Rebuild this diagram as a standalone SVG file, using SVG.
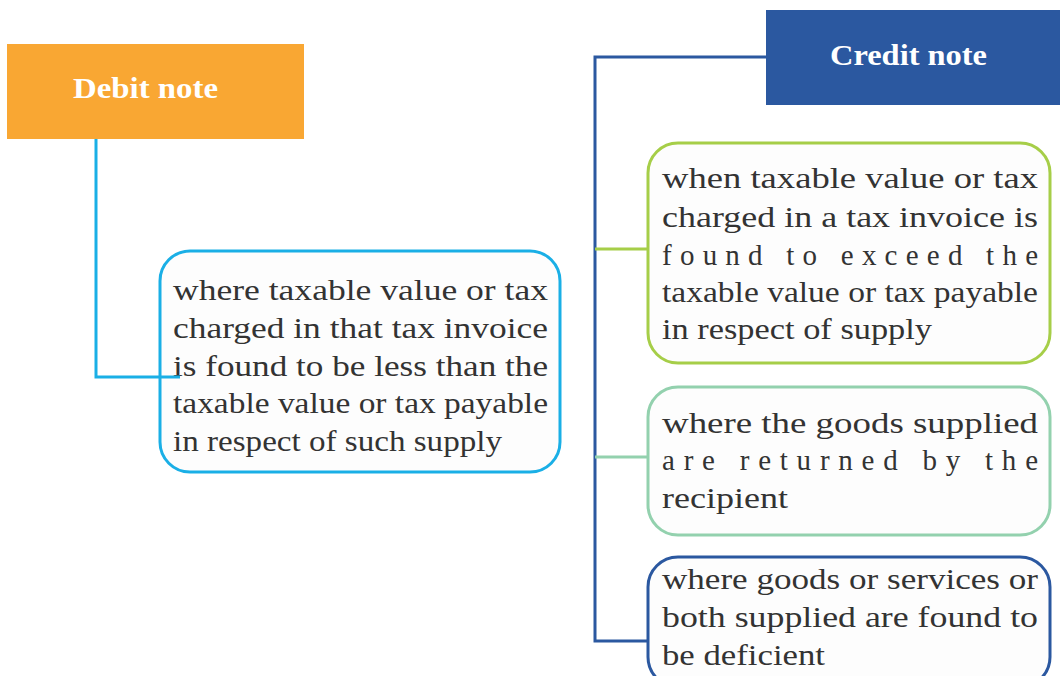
<svg xmlns="http://www.w3.org/2000/svg" width="1060" height="676" viewBox="0 0 1060 676">
<style>
.hdr{font-family:"Liberation Serif",serif;font-weight:bold;font-size:30px;fill:#ffffff}
.t{font-family:"Liberation Serif",serif;font-size:29px;fill:#333333}
.box{fill:#fdfdfd;stroke-width:3}
.ln{fill:none;stroke-width:3}
</style>
<rect width="1060" height="676" fill="#ffffff"/>
<g id="debit-note">
<rect x="7" y="44" width="297" height="95" fill="#f9a733"/>
<text class="hdr" x="73" y="98" textLength="145" lengthAdjust="spacingAndGlyphs">Debit note</text>
</g>
<g id="credit-note">
<rect x="766" y="10" width="294" height="95" fill="#2b58a0"/>
<text class="hdr" x="830" y="65" textLength="157" lengthAdjust="spacingAndGlyphs">Credit note</text>
</g>
<g id="debit-case">
<rect class="box" stroke="#1aafe6" x="160" y="251" width="400" height="221" rx="30"/>
<text class="t" x="173" y="300" textLength="375" lengthAdjust="spacingAndGlyphs">where taxable value or tax</text>
<text class="t" x="173" y="338" textLength="375" lengthAdjust="spacingAndGlyphs">charged in that tax invoice</text>
<text class="t" x="173" y="376" textLength="375" lengthAdjust="spacingAndGlyphs">is found to be less than the</text>
<text class="t" x="173" y="413" textLength="375" lengthAdjust="spacingAndGlyphs">taxable value or tax payable</text>
<text class="t" x="173" y="451" textLength="329" lengthAdjust="spacingAndGlyphs">in respect of such supply</text>
</g>
<g id="credit-case-1">
<rect class="box" stroke="#a6ce48" x="648" y="143" width="402" height="220" rx="30"/>
<text class="t" x="662" y="188" textLength="376" lengthAdjust="spacingAndGlyphs">when taxable value or tax</text>
<text class="t" x="662" y="227" textLength="376" lengthAdjust="spacingAndGlyphs">charged in a tax invoice is</text>
<text class="t" x="662" y="265" textLength="376" lengthAdjust="spacing">found to exceed the</text>
<text class="t" x="662" y="302" textLength="376" lengthAdjust="spacingAndGlyphs">taxable value or tax payable</text>
<text class="t" x="662" y="339" textLength="270" lengthAdjust="spacingAndGlyphs">in respect of  supply</text>
</g>
<g id="credit-case-2">
<rect class="box" stroke="#93d1ae" x="648" y="387" width="402" height="148" rx="30"/>
<text class="t" x="662" y="433" textLength="376" lengthAdjust="spacingAndGlyphs">where the goods supplied</text>
<text class="t" x="662" y="470" textLength="376" lengthAdjust="spacing">are returned by the</text>
<text class="t" x="662" y="508" textLength="126" lengthAdjust="spacingAndGlyphs">recipient</text>
</g>
<g id="credit-case-3">
<rect class="box" stroke="#2b58a0" x="648" y="557" width="402" height="130" rx="30"/>
<text class="t" x="662" y="589" textLength="376" lengthAdjust="spacingAndGlyphs">where goods or services or</text>
<text class="t" x="662" y="627" textLength="376" lengthAdjust="spacingAndGlyphs">both supplied are found to</text>
<text class="t" x="662" y="665" textLength="163" lengthAdjust="spacingAndGlyphs">be deficient</text>
</g>
<g id="connectors">
<polyline class="ln" stroke="#1aafe6" points="96,139 96,377 180,377"/>
<polyline class="ln" stroke="#2b58a0" points="766,57 595,57 595,641 648,641"/>
<line class="ln" stroke="#a6ce48" x1="595" y1="249" x2="648" y2="249"/>
<line class="ln" stroke="#93d1ae" x1="595" y1="457" x2="648" y2="457"/>
</g>
</svg>
